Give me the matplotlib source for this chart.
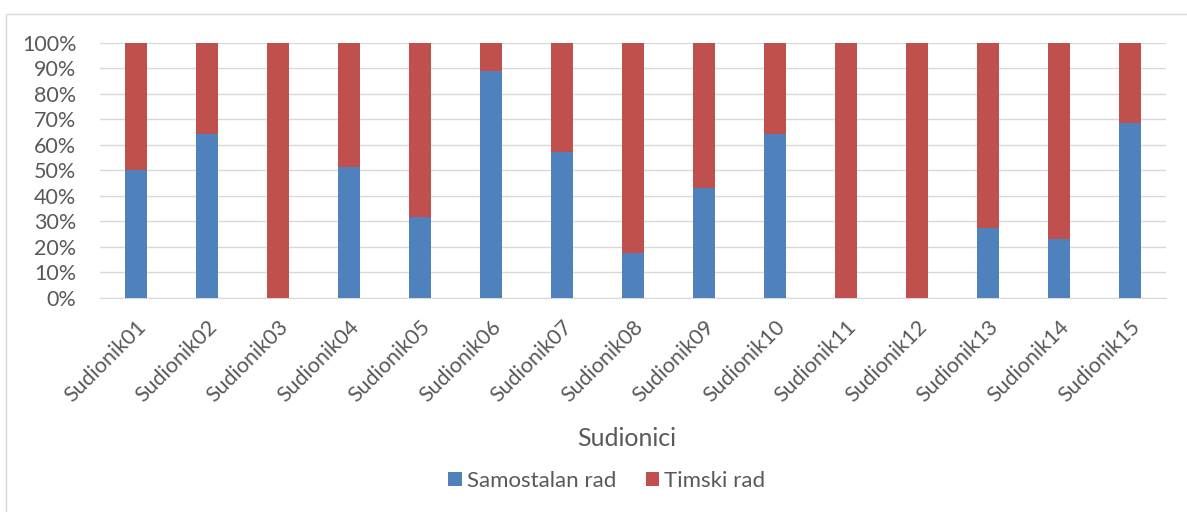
import matplotlib
matplotlib.use("Agg")
import matplotlib.pyplot as plt
from matplotlib.patches import Rectangle
from matplotlib.ticker import PercentFormatter

plt.rcParams['font.family'] = ['Lato', 'DejaVu Sans']

# Data (share of each participant's work)
participants = ["Sudionik%02d" % i for i in range(1, 16)]
samostalan = [50.0, 64.3, 0.0, 51.3, 31.6, 88.9, 57.1, 17.6, 42.9, 64.3, 0.0, 0.0, 27.3, 23.1, 68.4]
timski = [100 - v for v in samostalan]

blue = "#4F81BD"
red = "#C0504D"
grid = "#D9D9D9"
text = "#595959"

fig = plt.figure(figsize=(11.87, 5.12), dpi=100)
ax = fig.add_axes([100 / 1187, 1 - 297.5 / 512, 1066 / 1187, 254.5 / 512])

x = range(len(participants))
ax.bar(x, samostalan, width=0.31, color=blue, label="Samostalan rad", zorder=3)
ax.bar(x, timski, width=0.31, bottom=samostalan, color=red, label="Timski rad", zorder=3)

ax.set_xlim(-0.5, len(participants) - 0.5)
ax.set_ylim(0, 100)
ax.set_yticks(range(0, 101, 10))
ax.yaxis.set_major_formatter(PercentFormatter(decimals=0))
ax.grid(axis="y", color=grid, linewidth=1, zorder=0)

for s in ["top", "right", "left"]:
    ax.spines[s].set_visible(False)
ax.spines["bottom"].set_color(grid)
ax.tick_params(length=0, colors=text, labelsize=15.5)
ax.tick_params(axis="y", pad=17)

ax.set_xticks(list(x))
ax.set_xticklabels(participants, rotation=45, ha="right", rotation_mode="anchor")
ax.tick_params(axis="x", pad=14)

fig.text(627 / 1187, 1 - 438 / 512, "Sudionici", ha="center", va="center",
         fontsize=18, color=text)

handles, labels = ax.get_legend_handles_labels()
fig.legend(handles, labels, loc="center", bbox_to_anchor=(607 / 1187, 1 - 481 / 512),
           ncol=2, frameon=False, fontsize=16, labelcolor=text, handlelength=0.6,
           handleheight=0.6, handletextpad=0.25, columnspacing=1.3)

# light border around the chart area
fig.patches.append(Rectangle((6 / 1187, -0.1), 1.1, 1 - 14 / 512 + 0.1, transform=fig.transFigure,
                             fill=False, edgecolor=grid, linewidth=1))

fig.savefig("out.png", dpi=100)
